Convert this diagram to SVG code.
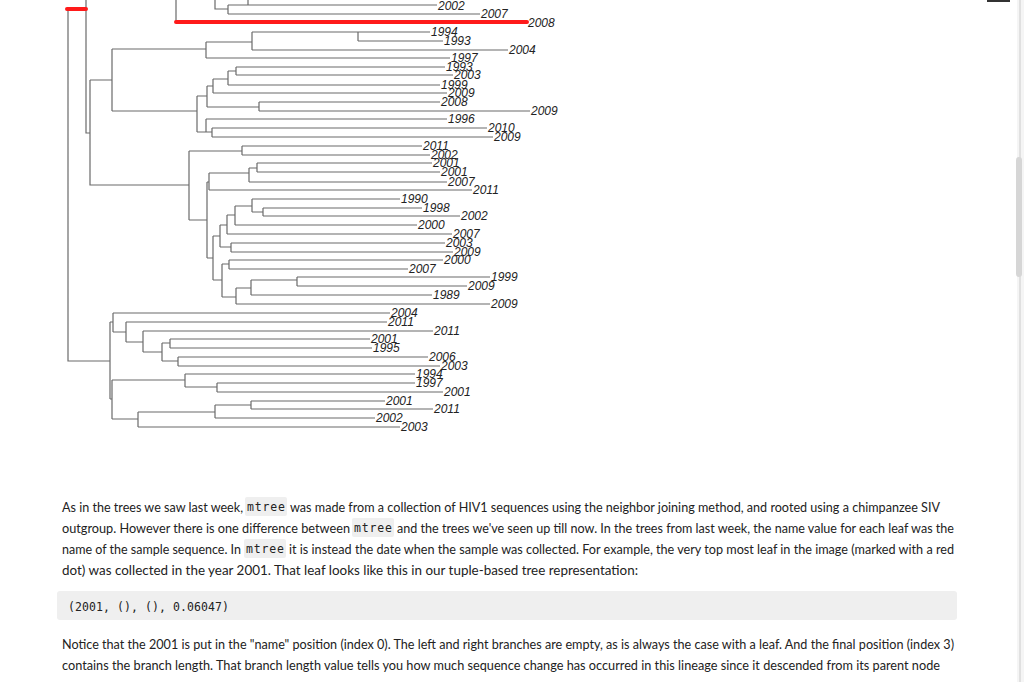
<svg xmlns="http://www.w3.org/2000/svg" width="1024" height="682" viewBox="0 0 1024 682">
<style>
.e{stroke:#6a6a6a;stroke-width:1.2;fill:none}
.r{stroke:#ff1a1a;stroke-width:4;stroke-linecap:round;fill:none}
.l{font-family:"Liberation Sans",Arial,sans-serif;font-style:italic;font-size:12px;fill:#222}
.p{font-family:Lato,"Noto Sans",sans-serif;font-size:13px;fill:#222}
.c{font-family:"DejaVu Sans Mono","Liberation Mono",monospace;font-size:11.5px;fill:#222}
.cb{fill:#efefef}
</style>
<rect width="1024" height="682" fill="#fff"/>
<g id="connectors">
<path class="e" d="M68 9V361H110 M86 0V133H90 M90 80V185H189 M90 80H112
M112 49V111 M112 49H206 M112 111H197
M206 42V58 M206 42H252 M206 58H450 M252 32V50 M252 32H358 M252 50H508 M358 32V41 M358 32H430 M358 41H443
M197 96V132 M197 96H207 M197 132H206
M207 86V107 M207 86H213 M207 107H259 M213 79V93 M213 79H228 M213 93H447
M228 71V85 M228 71H236 M228 85H440 M236 67V75 M236 67H445 M236 75H453
M259 102V111 M259 102H440 M259 111H530
M206 119V132 M206 119H447 M206 132H212 M212 128V137 M212 128H487 M212 137H493
M189 151V220 M189 151H242 M189 220H207 M242 146V155 M242 146H422 M242 155H430
M207 182V258 M207 182H209 M209 173V190 M209 173H249 M209 190H472 M249 168V182 M249 168H257 M249 182H447 M257 163V172 M257 163H432 M257 172H440
M207 258H213 M213 236V280 M213 236H220 M213 280H222
M220 225V247 M220 225H227 M220 247H231 M227 215V234 M227 215H235 M227 234H452
M235 206V225 M235 206H252 M235 225H417 M252 199V212 M252 199H400 M252 212H263 M263 208V216 M263 208H422 M263 216H460
M231 243V252 M231 243H445 M231 252H453
M222 264V297 M222 264H229 M222 297H236 M229 260V269 M229 260H443 M229 269H408
M236 288V304 M236 288H251 M236 304H490 M251 280V295 M251 280H297 M251 295H432 M297 277V286 M297 277H490 M297 286H467
M110 322V399 M110 322H113 M110 399H112
M113 313V332 M113 313H390 M113 332H126 M126 322V342 M126 322H387 M126 342H143
M143 331V352 M143 331H433 M143 352H162 M162 343V361 M162 343H170 M162 361H178
M170 339V348 M170 339H370 M170 348H372 M178 357V366 M178 357H428 M178 366H440
M112 380V419 M112 380H185 M112 419H138 M185 374V387 M185 374H415 M185 387H217 M217 383V392 M217 383H415 M217 392H443
M138 412V427 M138 412H215 M138 427H400 M215 405V418 M215 405H251 M215 418H375 M251 401V409 M251 401H385 M251 409H433
M176 0V22 M215 0V9H228 M228 5V14 M228 5H248 M248 0V5H437 M228 14H480"/>
<path class="r" d="M67 9H86 M176 22H527"/>
</g>
<g id="labels" class="l">
<text x="438" y="10">2002</text><text x="481" y="18">2007</text><text x="528" y="27">2008</text>
<text x="431" y="36">1994</text><text x="444" y="45">1993</text><text x="509" y="54">2004</text>
<text x="451" y="62">1997</text><text x="446" y="71">1993</text><text x="454" y="79">2003</text><text x="441" y="89">1999</text><text x="448" y="97">2009</text><text x="441" y="106">2008</text><text x="531" y="115">2009</text>
<text x="448" y="123">1996</text><text x="488" y="132">2010</text><text x="494" y="141">2009</text>
<text x="423" y="150">2011</text><text x="431" y="159">2002</text><text x="433" y="167">2001</text><text x="441" y="176">2001</text><text x="448" y="186">2007</text><text x="473" y="194">2011</text>
<text x="401" y="203">1990</text><text x="423" y="212">1998</text><text x="461" y="220">2002</text><text x="418" y="229">2000</text><text x="453" y="238">2007</text><text x="446" y="247">2003</text><text x="454" y="256">2009</text><text x="444" y="264">2000</text><text x="409" y="273">2007</text>
<text x="491" y="281">1999</text><text x="468" y="290">2009</text><text x="433" y="299">1989</text><text x="491" y="308">2009</text>
<text x="391" y="317">2004</text><text x="388" y="326">2011</text><text x="434" y="335">2011</text><text x="371" y="343">2001</text><text x="373" y="352">1995</text><text x="429" y="361">2006</text><text x="441" y="370">2003</text>
<text x="416" y="378">1994</text><text x="416" y="387">1997</text><text x="444" y="396">2001</text><text x="386" y="405">2001</text><text x="434" y="413">2011</text><text x="376" y="422">2002</text><text x="401" y="431">2003</text>
</g>
<g id="text">
<rect class="cb" x="245" y="497" width="42" height="19" rx="2"/>
<rect class="cb" x="352" y="518" width="42" height="19" rx="2"/>
<rect class="cb" x="244" y="539" width="42" height="19" rx="2"/>
<text class="p" x="62" y="512" textLength="181" lengthAdjust="spacingAndGlyphs">As in the trees we saw last week,</text>
<text class="c" x="247" y="511" textLength="38">mtree</text>
<text class="p" x="290" y="512" textLength="650" lengthAdjust="spacingAndGlyphs">was made from a collection of HIV1 sequences using the neighbor joining method, and rooted using a chimpanzee SIV</text>
<text class="p" x="62" y="533" textLength="288" lengthAdjust="spacingAndGlyphs">outgroup. However there is one difference between</text>
<text class="c" x="354" y="532" textLength="38">mtree</text>
<text class="p" x="397" y="533" textLength="557" lengthAdjust="spacingAndGlyphs">and the trees we've seen up till now. In the trees from last week, the name value for each leaf was the</text>
<text class="p" x="62" y="554" textLength="179" lengthAdjust="spacingAndGlyphs">name of the sample sequence. In</text>
<text class="c" x="246" y="553" textLength="38">mtree</text>
<text class="p" x="289" y="554" textLength="665" lengthAdjust="spacingAndGlyphs">it is instead the date when the sample was collected. For example, the very top most leaf in the image (marked with a red</text>
<text class="p" x="62" y="575" textLength="576" lengthAdjust="spacingAndGlyphs">dot) was collected in the year 2001. That leaf looks like this in our tuple-based tree representation:</text>
<rect class="cb" x="57" y="591" width="900" height="29" rx="3"/>
<text class="c" x="68" y="611" textLength="161">(2001, (), (), 0.06047)</text>
<text class="p" x="62" y="649" textLength="892" lengthAdjust="spacingAndGlyphs">Notice that the 2001 is put in the "name" position (index 0). The left and right branches are empty, as is always the case with a leaf. And the final position (index 3)</text>
<text class="p" x="62" y="670" textLength="878" lengthAdjust="spacingAndGlyphs">contains the branch length. That branch length value tells you how much sequence change has occurred in this lineage since it descended from its parent node</text>
</g>
<g id="scrollbar">
<rect x="1017" y="0" width="7" height="682" fill="#f5f5f5"/>
<line x1="1020" y1="0" x2="1020" y2="682" stroke="#ccc"/>
<rect x="1016" y="157" width="6" height="120" rx="3" fill="#d6d6d6"/>
<line x1="987" y1="1" x2="1010" y2="1" stroke="#333" stroke-width="2"/>
</g>
</svg>
